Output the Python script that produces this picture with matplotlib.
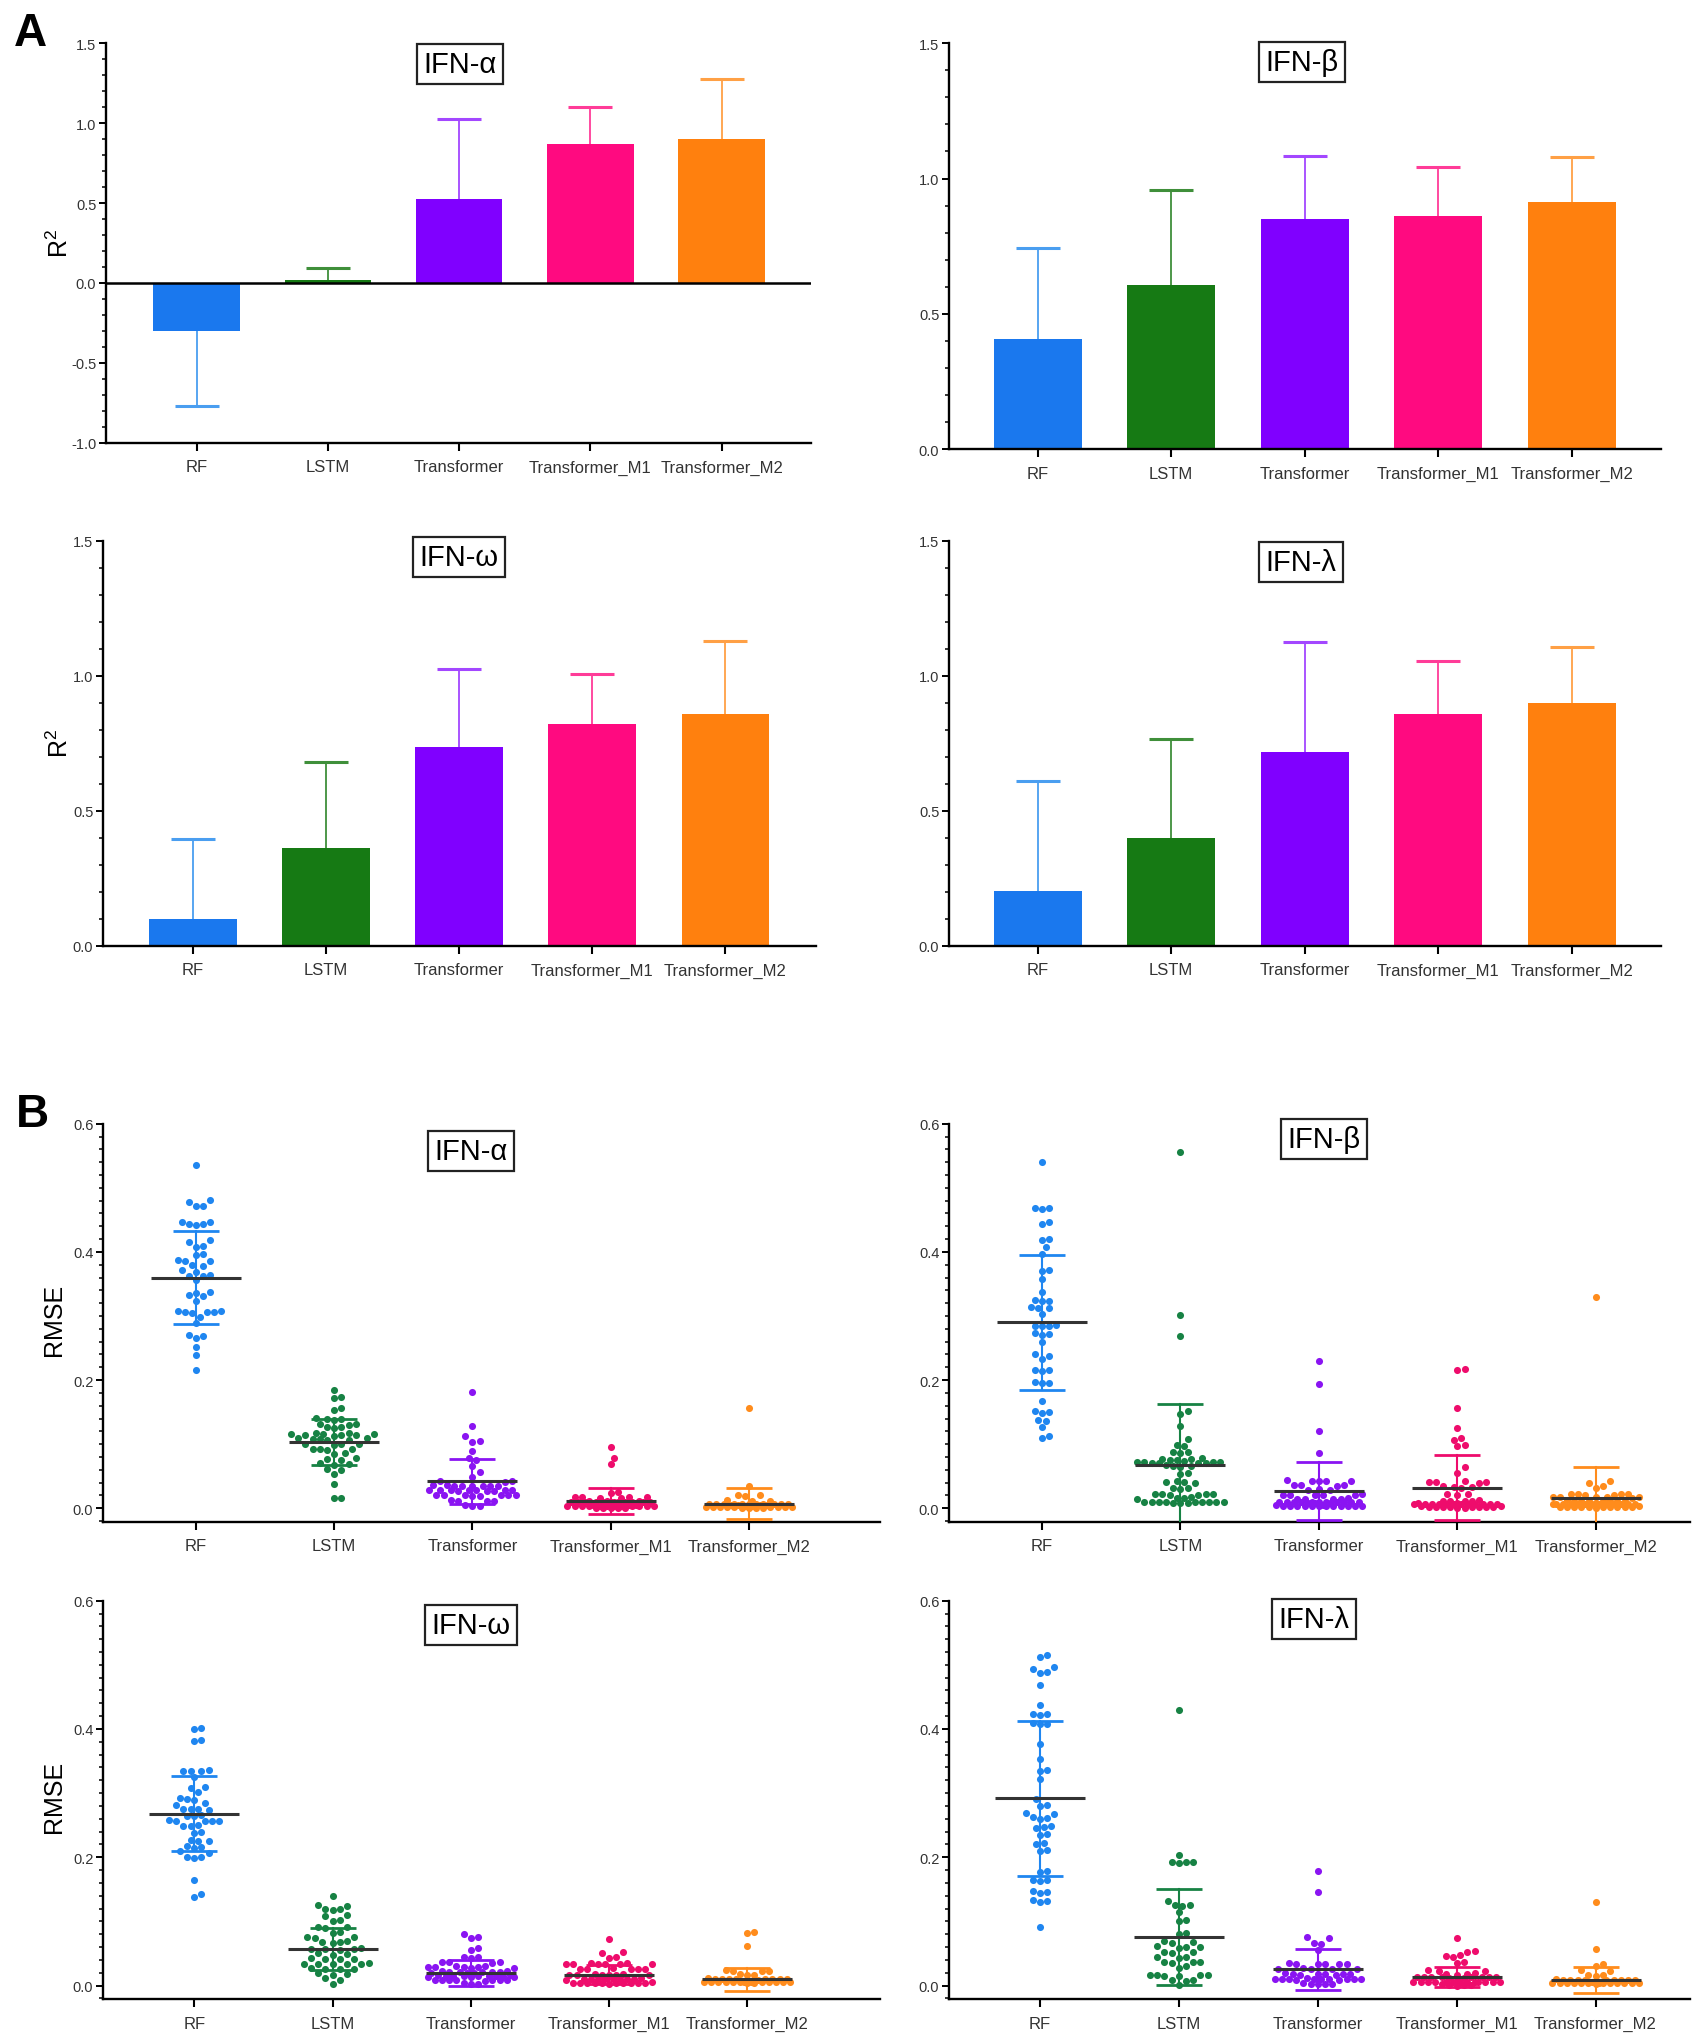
import numpy as np
import matplotlib
matplotlib.use("Agg")
import matplotlib.pyplot as plt
from matplotlib.ticker import MultipleLocator, FormatStrFormatter

plt.rcParams["font.family"] = ["Liberation Sans", "DejaVu Sans"]
plt.rcParams["mathtext.fontset"] = "custom"
plt.rcParams["mathtext.rm"] = "Liberation Sans"
plt.rcParams["mathtext.it"] = "Liberation Sans:italic"

models = ["RF", "LSTM", "Transformer", "Transformer_M1", "Transformer_M2"]

# ---- A: mean R2 with SD (one-sided error bars) ----
r2_alpha = [-0.298, 0.021, 0.527, 0.869, 0.900]
r2_alpha_sd = [0.473, 0.071, 0.500, 0.235, 0.375]
r2_beta = [0.405, 0.607, 0.849, 0.863, 0.912]
r2_beta_sd = [0.337, 0.351, 0.234, 0.179, 0.168]
r2_omega = [0.099, 0.361, 0.735, 0.822, 0.860]
r2_omega_sd = [0.295, 0.320, 0.290, 0.184, 0.269]
r2_lambda = [0.202, 0.399, 0.719, 0.859, 0.899]
r2_lambda_sd = [0.407, 0.366, 0.406, 0.197, 0.207]

# ---- B: RMSE per sample ----
alpha_rf = [0.536, 0.481, 0.478, 0.472, 0.471, 0.447, 0.446, 0.444, 0.443, 0.442,
            0.418, 0.416, 0.409, 0.407, 0.396, 0.395, 0.387, 0.386, 0.385, 0.380,
            0.378, 0.371, 0.369, 0.364, 0.363, 0.362, 0.356, 0.338, 0.336, 0.333,
            0.331, 0.324, 0.307, 0.306, 0.306, 0.305, 0.307, 0.306, 0.299, 0.289,
            0.271, 0.269, 0.265, 0.251, 0.239, 0.215]
alpha_lstm = [0.185, 0.174, 0.172, 0.156, 0.154, 0.141, 0.140, 0.139, 0.138, 0.132,
              0.131, 0.130, 0.127, 0.126, 0.125, 0.117, 0.117, 0.116, 0.116, 0.116,
              0.115, 0.115, 0.114, 0.113, 0.109, 0.109, 0.108, 0.108, 0.107, 0.107,
              0.101, 0.100, 0.100, 0.099, 0.093, 0.092, 0.092, 0.091, 0.086, 0.085,
              0.078, 0.077, 0.076, 0.070, 0.069, 0.068, 0.062, 0.060, 0.054, 0.038,
              0.016, 0.016]
alpha_tf = [0.181, 0.129, 0.113, 0.105, 0.104, 0.090, 0.078, 0.076, 0.066, 0.056,
            0.048, 0.043, 0.042, 0.041, 0.036, 0.036, 0.035, 0.035, 0.035, 0.035,
            0.034, 0.034, 0.029, 0.029, 0.028, 0.028, 0.028, 0.028, 0.028, 0.027,
            0.027, 0.027, 0.021, 0.021, 0.020, 0.020, 0.020, 0.020, 0.019, 0.019,
            0.013, 0.012, 0.012, 0.011, 0.005, 0.004, 0.003]
alpha_m1 = [0.096, 0.079, 0.069, 0.026, 0.024, 0.018, 0.018, 0.017, 0.017, 0.016,
            0.016, 0.011, 0.011, 0.011, 0.010, 0.010, 0.010, 0.010, 0.010, 0.010,
            0.010, 0.009, 0.009, 0.009, 0.009, 0.009, 0.005, 0.005, 0.005, 0.004,
            0.004, 0.004, 0.004, 0.004, 0.004, 0.004, 0.004, 0.003, 0.003, 0.003,
            0.003, 0.001, 0.001, 0.000, 0.000, 0.000]
alpha_m2 = [0.157, 0.034, 0.021, 0.020, 0.019, 0.013, 0.012, 0.012, 0.007, 0.007,
            0.007, 0.006, 0.006, 0.006, 0.006, 0.006, 0.006, 0.006, 0.006, 0.005,
            0.005, 0.005, 0.005, 0.003, 0.003, 0.002, 0.002, 0.002, 0.002, 0.002,
            0.002, 0.002, 0.002, 0.002, 0.001, 0.001, 0.001, 0.001]

beta_rf = [0.540, 0.469, 0.468, 0.467, 0.446, 0.444, 0.420, 0.418, 0.407, 0.396,
           0.372, 0.370, 0.357, 0.338, 0.325, 0.324, 0.323, 0.314, 0.313, 0.312,
           0.303, 0.286, 0.285, 0.285, 0.284, 0.273, 0.272, 0.271, 0.259, 0.240,
           0.238, 0.233, 0.216, 0.215, 0.214, 0.197, 0.196, 0.195, 0.168, 0.151,
           0.150, 0.149, 0.138, 0.136, 0.126, 0.112, 0.110]
beta_lstm = [0.556, 0.301, 0.268, 0.152, 0.147, 0.129, 0.108, 0.099, 0.097, 0.088,
             0.087, 0.086, 0.078, 0.077, 0.077, 0.076, 0.076, 0.073, 0.072, 0.072,
             0.072, 0.072, 0.071, 0.071, 0.071, 0.070, 0.067, 0.066, 0.066, 0.065,
             0.055, 0.053, 0.042, 0.041, 0.041, 0.040, 0.032, 0.031, 0.030, 0.023,
             0.023, 0.022, 0.022, 0.021, 0.021, 0.017, 0.016, 0.016, 0.015, 0.010,
             0.010, 0.009, 0.009, 0.009, 0.009, 0.009, 0.009, 0.009, 0.008, 0.008,
             0.008]
beta_tf = [0.229, 0.194, 0.120, 0.086, 0.044, 0.043, 0.043, 0.043, 0.042, 0.037,
           0.036, 0.036, 0.035, 0.030, 0.029, 0.028, 0.022, 0.021, 0.021, 0.021,
           0.020, 0.020, 0.016, 0.015, 0.015, 0.015, 0.014, 0.010, 0.010, 0.009,
           0.009, 0.009, 0.009, 0.009, 0.009, 0.009, 0.009, 0.009, 0.008, 0.008,
           0.008, 0.005, 0.005, 0.004, 0.004, 0.004, 0.004, 0.004, 0.004, 0.004,
           0.004, 0.003, 0.003, 0.003, 0.003]
beta_m1 = [0.218, 0.216, 0.157, 0.125, 0.109, 0.107, 0.099, 0.097, 0.064, 0.055,
           0.042, 0.041, 0.041, 0.041, 0.040, 0.034, 0.033, 0.033, 0.032, 0.023,
           0.022, 0.021, 0.013, 0.012, 0.012, 0.012, 0.011, 0.008, 0.008, 0.007,
           0.007, 0.007, 0.007, 0.007, 0.007, 0.007, 0.007, 0.007, 0.007, 0.006,
           0.006, 0.003, 0.003, 0.002, 0.002, 0.002, 0.002, 0.002, 0.002, 0.002,
           0.002, 0.001, 0.001]
beta_m2 = [0.330, 0.042, 0.040, 0.034, 0.032, 0.023, 0.022, 0.022, 0.022, 0.021,
           0.021, 0.018, 0.017, 0.017, 0.017, 0.017, 0.016, 0.013, 0.012, 0.012,
           0.012, 0.012, 0.012, 0.012, 0.011, 0.008, 0.007, 0.007, 0.007, 0.007,
           0.007, 0.007, 0.007, 0.007, 0.007, 0.007, 0.007, 0.007, 0.006, 0.003,
           0.002, 0.002, 0.002, 0.002, 0.002, 0.002, 0.002, 0.002, 0.002, 0.002,
           0.001]

omega_rf = [0.402, 0.400, 0.383, 0.381, 0.336, 0.335, 0.335, 0.334, 0.325, 0.310,
            0.308, 0.301, 0.292, 0.291, 0.290, 0.284, 0.282, 0.276, 0.275, 0.275,
            0.274, 0.266, 0.265, 0.264, 0.258, 0.257, 0.257, 0.256, 0.256, 0.250,
            0.249, 0.248, 0.240, 0.238, 0.227, 0.226, 0.225, 0.217, 0.216, 0.215,
            0.209, 0.207, 0.201, 0.200, 0.199, 0.164, 0.143, 0.138]
omega_lstm = [0.139, 0.126, 0.124, 0.120, 0.119, 0.118, 0.110, 0.108, 0.102, 0.100,
              0.092, 0.091, 0.090, 0.084, 0.082, 0.076, 0.075, 0.074, 0.069, 0.068,
              0.068, 0.067, 0.058, 0.057, 0.057, 0.057, 0.056, 0.050, 0.049, 0.048,
              0.043, 0.042, 0.042, 0.041, 0.035, 0.034, 0.034, 0.034, 0.034, 0.033,
              0.027, 0.026, 0.026, 0.025, 0.019, 0.018, 0.017, 0.011, 0.009, 0.003]
omega_tf = [0.081, 0.076, 0.074, 0.058, 0.056, 0.045, 0.044, 0.043, 0.037, 0.036,
            0.036, 0.035, 0.030, 0.030, 0.029, 0.029, 0.029, 0.029, 0.028, 0.028,
            0.022, 0.022, 0.021, 0.021, 0.021, 0.021, 0.021, 0.020, 0.020, 0.020,
            0.016, 0.016, 0.015, 0.015, 0.015, 0.015, 0.015, 0.015, 0.015, 0.014,
            0.014, 0.014, 0.009, 0.008, 0.008, 0.008, 0.008, 0.008, 0.008, 0.007,
            0.004, 0.003, 0.002]
omega_m1 = [0.073, 0.053, 0.051, 0.045, 0.043, 0.035, 0.035, 0.034, 0.034, 0.034,
            0.034, 0.033, 0.033, 0.027, 0.026, 0.026, 0.026, 0.026, 0.025, 0.018,
            0.018, 0.017, 0.017, 0.017, 0.017, 0.016, 0.016, 0.011, 0.010, 0.010,
            0.010, 0.010, 0.010, 0.010, 0.010, 0.010, 0.009, 0.005, 0.004, 0.004,
            0.004, 0.004, 0.004, 0.004, 0.004, 0.004, 0.004, 0.004, 0.003]
omega_m2 = [0.084, 0.082, 0.062, 0.024, 0.023, 0.023, 0.022, 0.018, 0.017, 0.016,
            0.011, 0.010, 0.010, 0.010, 0.010, 0.010, 0.010, 0.010, 0.010, 0.009,
            0.006, 0.005, 0.005, 0.005, 0.005, 0.005, 0.005, 0.005, 0.005, 0.005,
            0.005, 0.005, 0.005, 0.004, 0.004]

lambda_rf = [0.515, 0.513, 0.496, 0.494, 0.489, 0.487, 0.468, 0.437, 0.424, 0.423,
             0.422, 0.409, 0.408, 0.407, 0.377, 0.353, 0.336, 0.334, 0.322, 0.291,
             0.282, 0.280, 0.269, 0.267, 0.262, 0.261, 0.260, 0.248, 0.247, 0.246,
             0.237, 0.235, 0.222, 0.220, 0.211, 0.209, 0.179, 0.177, 0.165, 0.164,
             0.163, 0.147, 0.146, 0.145, 0.133, 0.132, 0.131, 0.091]
lambda_lstm = [0.429, 0.203, 0.193, 0.192, 0.192, 0.191, 0.132, 0.126, 0.125, 0.124,
               0.114, 0.102, 0.100, 0.082, 0.080, 0.069, 0.068, 0.067, 0.061, 0.060,
               0.060, 0.059, 0.053, 0.052, 0.051, 0.045, 0.044, 0.043, 0.037, 0.036,
               0.036, 0.035, 0.030, 0.028, 0.017, 0.016, 0.016, 0.016, 0.015, 0.015,
               0.009, 0.008, 0.007, 0.001]
lambda_tf = [0.179, 0.146, 0.076, 0.074, 0.067, 0.065, 0.055, 0.035, 0.034, 0.034,
             0.034, 0.033, 0.033, 0.027, 0.026, 0.026, 0.026, 0.025, 0.019, 0.018,
             0.018, 0.018, 0.018, 0.018, 0.017, 0.017, 0.011, 0.010, 0.010, 0.010,
             0.010, 0.010, 0.010, 0.010, 0.010, 0.010, 0.009, 0.009, 0.004, 0.003,
             0.003, 0.003, 0.002]
lambda_m1 = [0.074, 0.054, 0.052, 0.047, 0.046, 0.045, 0.037, 0.035, 0.024, 0.023,
             0.022, 0.019, 0.018, 0.018, 0.017, 0.014, 0.013, 0.013, 0.013, 0.013,
             0.013, 0.013, 0.013, 0.012, 0.012, 0.007, 0.006, 0.006, 0.006, 0.006,
             0.006, 0.006, 0.006, 0.006, 0.006, 0.006, 0.006, 0.006, 0.005, 0.002,
             0.001, 0.001, 0.001, 0.000]
lambda_m2 = [0.131, 0.057, 0.033, 0.031, 0.024, 0.022, 0.017, 0.016, 0.015, 0.010,
             0.009, 0.009, 0.009, 0.009, 0.009, 0.009, 0.009, 0.009, 0.008, 0.005,
             0.004, 0.004, 0.004, 0.004, 0.004, 0.004, 0.004, 0.004, 0.004, 0.004,
             0.004, 0.004, 0.004, 0.003]

# mean and SD lines as drawn in panel B
rmse_alpha_mean = [0.360, 0.104, 0.042, 0.011, 0.007]
rmse_alpha_sd = [0.072, 0.036, 0.035, 0.020, 0.024]
rmse_beta_mean = [0.290, 0.068, 0.027, 0.032, 0.016]
rmse_beta_sd = [0.105, 0.094, 0.045, 0.051, 0.048]
rmse_omega_mean = [0.268, 0.057, 0.020, 0.017, 0.010]
rmse_omega_sd = [0.058, 0.033, 0.020, 0.015, 0.018]
rmse_lambda_mean = [0.292, 0.076, 0.025, 0.013, 0.009]
rmse_lambda_sd = [0.121, 0.075, 0.032, 0.016, 0.020]

bar_colors = ["#1a78ee", "#167a14", "#8000ff", "#ff0a80", "#ff800e"]
err_colors = ["#4a9ef0", "#3f8f3a", "#a347ff", "#ff3c98", "#ffa045"]
dot_colors = ["#1f86f0", "#178244", "#8a14f2", "#ee0c6c", "#ff8c1c"]

W, H = 1699, 2040
fig = plt.figure(figsize=(W / 100, H / 100), dpi=100)


def make_axes(left, right, top, bottom):
    ax = fig.add_axes([left / W, 1 - bottom / H, (right - left) / W, (bottom - top) / H])
    return ax, right - left, bottom - top


def style(ax, major, minor, fmt):
    for s in ["top", "right"]:
        ax.spines[s].set_visible(False)
    for s in ["left", "bottom"]:
        ax.spines[s].set_linewidth(1.7)
    ax.yaxis.set_major_locator(MultipleLocator(major))
    ax.yaxis.set_minor_locator(MultipleLocator(minor))
    ax.yaxis.set_major_formatter(FormatStrFormatter(fmt))
    ax.set_xticks(range(len(models)))
    ax.set_xticklabels(models)
    ax.tick_params(axis="x", length=6, width=1.5, labelsize=12, pad=6, labelcolor="#333333")
    ax.tick_params(axis="y", which="major", length=5, width=1.4, labelsize=10.5, pad=2,
                   labelcolor="#333333")
    ax.tick_params(axis="y", which="minor", length=3, width=1.1)


def title_box(text, cx, cy):
    fig.text(cx / W, 1 - cy / H, text, ha="center", va="center", fontsize=21,
             bbox=dict(boxstyle="square,pad=0.22", fc="white", ec="#222222", lw=1.6))


def bar_panel(box, xlim, ylim, means, sds, title, title_xy):
    ax, _, _ = make_axes(*box)
    x = np.arange(len(models))
    ax.bar(x, means, width=0.66, color=bar_colors, zorder=2)
    for i in range(len(models)):
        tip = means[i] + sds[i] if means[i] >= 0 else means[i] - sds[i]
        ax.plot([x[i], x[i]], [means[i], tip], color=err_colors[i], lw=1.3, zorder=1)
        ax.plot(x[i], tip, marker="_", ms=32, mew=2.2, color=err_colors[i], zorder=1)
    if ylim[0] < 0:
        ax.axhline(0, color="black", lw=1.8, zorder=3)
    ax.set_xlim(*xlim)
    ax.set_ylim(*ylim)
    style(ax, 0.5, 0.1, "%.1f")
    title_box(title, *title_xy)
    return ax


def swarm(values, center, ppu_x, ppu_y, d=7.2, max_px=46):
    # dot-plot layout: spread points sideways, but keep them inside +-max_px,
    # letting them overlap once a row is full (as the original plot does)
    vals = np.asarray(values, dtype=float)
    ys = vals * ppu_y
    step = d * 0.5
    cands = [0.0]
    k = 1
    while k * step <= max_px:
        cands += [k * step, -k * step]
        k += 1
    px, py = [], []
    out = np.zeros(len(vals))
    for i in np.argsort(vals, kind="stable"):
        ax_arr, ay_arr = np.array(px), np.array(py)
        best, best_d = 0.0, -1.0
        for c in cands:
            if len(ax_arr) == 0:
                best = c
                break
            md = np.min((ax_arr - c) ** 2 + (ay_arr - ys[i]) ** 2)
            if md >= d * d * 0.97:
                best = c
                break
            if md > best_d + 1e-9:
                best, best_d = c, md
        px.append(best)
        py.append(ys[i])
        out[i] = center + best / ppu_x
    return out


def dot_panel(box, xlim, groups, means, sds, title, title_xy):
    ax, wpx, hpx = make_axes(*box)
    ylim = (-0.021, 0.6)
    ppu_x = wpx / (xlim[1] - xlim[0])
    ppu_y = hpx / (ylim[1] - ylim[0])
    for i, vals in enumerate(groups):
        xs = swarm(vals, i, ppu_x, ppu_y)
        ax.scatter(xs, vals, s=26, color=dot_colors[i], linewidths=0, zorder=2)
        lo, hi = means[i] - sds[i], means[i] + sds[i]
        ax.plot([i, i], [lo, hi], color=dot_colors[i], lw=1.5, zorder=3)
        ax.plot([i, i], [lo, hi], ls="none", marker="_", ms=33, mew=2.0, color=dot_colors[i], zorder=3)
        ax.plot(i, means[i], marker="_", ms=65, mew=2.2, color="#333333", zorder=4)
    ax.set_xlim(*xlim)
    ax.set_ylim(*ylim)
    style(ax, 0.2, 0.02, "%.1f")
    title_box(title, *title_xy)
    return ax


# A
bar_panel((106, 811, 44.3, 443.7), (-0.69, 4.68), (-1.0, 1.5), r2_alpha, r2_alpha_sd, "IFN-α", (460, 65))
bar_panel((949, 1661, 44.3, 450), (-0.664, 4.67), (0, 1.5), r2_beta, r2_beta_sd, "IFN-β", (1302, 63))
bar_panel((103, 816, 541.7, 946.7), (-0.677, 4.68), (0, 1.5), r2_omega, r2_omega_sd, "IFN-ω", (459, 558))
bar_panel((949, 1661, 541.7, 946.7), (-0.664, 4.67), (0, 1.5), r2_lambda, r2_lambda_sd, "IFN-λ", (1301, 563))

# B
dot_panel((103, 880, 1124.7, 1522.7), (-0.673, 4.95),
          [alpha_rf, alpha_lstm, alpha_tf, alpha_m1, alpha_m2],
          rmse_alpha_mean, rmse_alpha_sd, "IFN-α", (471, 1152))
dot_panel((949, 1690, 1124.7, 1522.7), (-0.672, 4.68),
          [beta_rf, beta_lstm, beta_tf, beta_m1, beta_m2],
          rmse_beta_mean, rmse_beta_sd, "IFN-β", (1324, 1140))
dot_panel((103, 880, 1601.7, 2000), (-0.66, 4.96),
          [omega_rf, omega_lstm, omega_tf, omega_m1, omega_m2],
          rmse_omega_mean, rmse_omega_sd, "IFN-ω", (471, 1626))
dot_panel((949, 1690, 1601.7, 2000), (-0.655, 4.68),
          [lambda_rf, lambda_lstm, lambda_tf, lambda_m1, lambda_m2],
          rmse_lambda_mean, rmse_lambda_sd, "IFN-λ", (1314, 1620))

# axis titles and panel letters
for cy in (243, 743):
    fig.text(60 / W, 1 - cy / H, r"R$^{2}$", rotation=90, ha="center", va="center", fontsize=18)
for cy in (1320, 1797):
    fig.text(54 / W, 1 - cy / H, "RMSE", rotation=90, ha="center", va="center", fontsize=18)
fig.text(14 / W, 1 - 12 / H, "A", ha="left", va="top", fontsize=33, fontweight="bold")
fig.text(16 / W, 1 - 1093 / H, "B", ha="left", va="top", fontsize=33, fontweight="bold")

fig.savefig("out.png", dpi=100, facecolor="white")
